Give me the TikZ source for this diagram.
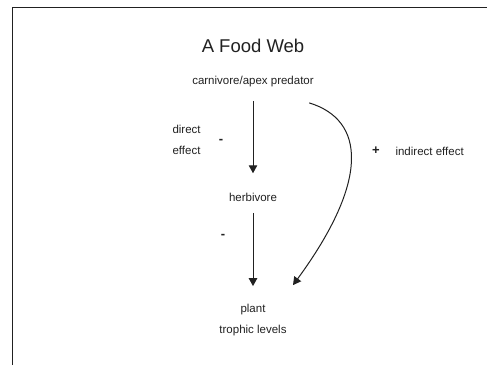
\documentclass[tikz,border=0pt]{standalone}
\usepackage{fontspec}
\setmainfont{Liberation Sans}
\usetikzlibrary{arrows.meta}
\definecolor{ink}{gray}{0.13}

\begin{document}
\begin{tikzpicture}[x=1pt,y=-1pt,
  every node/.style={font=\fontsize{11.5}{13}\selectfont, text=ink},
  effect/.style={draw=ink, line width=1pt, -{Triangle[length=8pt,width=8.5pt]}},
  sign/.style={font=\bfseries\fontsize{13}{14}\selectfont}]
  \useasboundingbox (0,0) rectangle (487,365);
  \draw[line width=1.3pt, ink] (12.5,365) -- (12.5,7.5) -- (487,7.5);
  \node (title) at (253,46) {\fontsize{18.5}{20}\selectfont A Food Web};
  \node (apex) at (253,82) {carnivore/apex predator};
  \node (herb) at (253,197) {herbivore};
  \node (plant) at (253,310) {plant};
  \node (levels) at (253,331) {trophic levels};
  \node[anchor=west] (direct) at (169,129) {direct};
  \node[anchor=west] (effect) at (169,150) {effect};
  \node[sign] (minusA) at (221,141) {-};
  \node[sign] (minusB) at (223,236) {-};
  \node[sign] (plus) at (376,151) {+};
  \node[anchor=west] (indirect) at (392,151) {indirect effect};
  \draw[effect, shorten <=10pt, shorten >=16pt] (apex.south) -- (herb.north);
  \draw[effect, shorten <=8pt, shorten >=15pt] (herb.south) -- (plant.north);
  \draw[effect] ([shift={(-8pt,-12pt)}]apex.south east)
    .. controls (365,120) and (370,180) .. ([shift={(24pt,16pt)}]plant.north east);
\end{tikzpicture}
\end{document}
